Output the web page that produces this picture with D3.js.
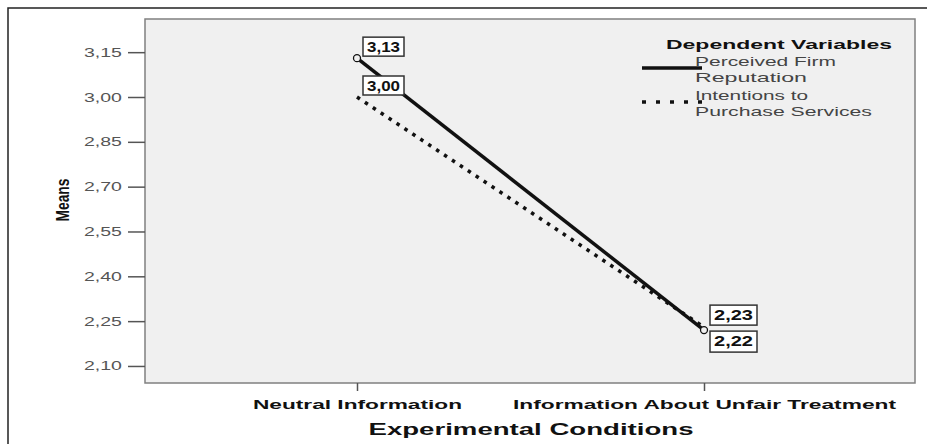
<!DOCTYPE html>
<html>
<head>
<meta charset="utf-8">
<script src="https://cdn.jsdelivr.net/npm/d3@7"></script>
<style>
  body { margin: 0; background: #fff; }
  svg { display: block; }
  text { font-family: "Liberation Sans", Arial, sans-serif; }
</style>
</head>
<body>
<div id="chart"></div>
<script>
const categories = ['Neutral Information', 'Information About Unfair Treatment'];
const reputation = [3.13, 2.22];
const intentions = [3.00, 2.23];
const yTicks = [2.10, 2.25, 2.40, 2.55, 2.70, 2.85, 3.00, 3.15];
const seriesNames = [['Perceived Firm', 'Reputation'], ['Intentions to', 'Purchase Services']];

const width = 927, height = 444;
const plot = { left: 145, right: 915, top: 19, bottom: 383 };

const loc = d3.formatLocale({ decimal: ',', thousands: '.', grouping: [3], currency: ['', ''] });
const fmt = loc.format('.2f');

// the original's text is drawn wide, so stretch glyphs to the measured width
function stretch(sel, len) {
  sel.attr('textLength', len).attr('lengthAdjust', 'spacingAndGlyphs');
}

const svg = d3.select('#chart').append('svg')
  .attr('width', width)
  .attr('height', height);

// outer frame
svg.append('rect')
  .attr('x', 8).attr('y', 8)
  .attr('width', 940).attr('height', 460)
  .attr('fill', 'none').attr('stroke', '#222').attr('stroke-width', 1.5);

const y = d3.scaleLinear().domain([2.043, 3.261]).range([plot.bottom, plot.top]);
const x = d3.scalePoint().domain(categories).range([357, 704]);

svg.append('rect')
  .attr('x', plot.left).attr('y', plot.top)
  .attr('width', plot.right - plot.left).attr('height', plot.bottom - plot.top)
  .attr('fill', '#f0f0f0').attr('stroke', '#808080').attr('stroke-width', 1.5);

// y axis
const yAxis = svg.append('g')
  .attr('transform', `translate(${plot.left},0)`)
  .call(d3.axisLeft(y).tickValues(yTicks).tickFormat(fmt).tickSize(17).tickPadding(6));
yAxis.select('.domain').remove();
yAxis.attr('font-family', null).attr('font-size', null);
yAxis.selectAll('line').attr('stroke', '#555').attr('stroke-width', 1.5);
yAxis.selectAll('text').attr('fill', '#555')
  .style('font-size', '12.5px')
  .call(stretch, 38);

// x axis
const xAxis = svg.append('g')
  .attr('transform', `translate(0,${plot.bottom})`)
  .call(d3.axisBottom(x).tickSize(8).tickPadding(8));
xAxis.select('.domain').remove();
xAxis.attr('font-family', null).attr('font-size', null);
xAxis.selectAll('line').attr('stroke', '#555').attr('stroke-width', 1.5);
xAxis.selectAll('text').attr('fill', '#111')
  .style('font-size', '13.5px').style('font-weight', 'bold')
  .each(function (d, i) { d3.select(this).call(stretch, i === 0 ? 209 : 383); });

svg.append('text')
  .attr('x', 531).attr('y', 435)
  .attr('text-anchor', 'middle')
  .style('font-size', '17px').style('font-weight', 'bold').attr('fill', '#111')
  .text('Experimental Conditions')
  .call(stretch, 325);

svg.append('text')
  .attr('transform', 'translate(69,200) rotate(-90)')
  .attr('text-anchor', 'middle')
  .style('font-size', '19px').style('font-weight', 'bold').attr('fill', '#111')
  .text('Means')
  .call(stretch, 43);

// lines
const line = d3.line().x((d, i) => x(categories[i])).y(d => y(d));

svg.append('path')
  .datum(intentions)
  .attr('d', line)
  .attr('fill', 'none').attr('stroke', '#111')
  .attr('stroke-width', 3.5).attr('stroke-dasharray', '3.5,6');

svg.append('path')
  .datum(reputation)
  .attr('d', line)
  .attr('fill', 'none').attr('stroke', '#111').attr('stroke-width', 3.5);

svg.selectAll('circle.pt')
  .data(reputation)
  .enter().append('circle')
  .attr('cx', (d, i) => x(categories[i]))
  .attr('cy', d => y(d))
  .attr('r', 3.5)
  .attr('fill', '#f0f0f0').attr('stroke', '#111').attr('stroke-width', 1.3);

// value labels
const labels = [
  { v: reputation[0], i: 0, dy: -12, w: 41, h: 19 },
  { v: intentions[0], i: 0, dy: -12, w: 41, h: 19 },
  { v: intentions[1], i: 1, dy: -13, w: 47, h: 20 },
  { v: reputation[1], i: 1, dy: 10, w: 47, h: 21 }
];
const lab = svg.selectAll('g.lab').data(labels).enter().append('g')
  .attr('transform', d => `translate(${x(categories[d.i]) + 6},${y(d.v) + d.dy})`);
lab.append('rect')
  .attr('x', 0).attr('y', -9).attr('width', d => d.w).attr('height', d => d.h)
  .attr('fill', '#fff').attr('stroke', '#333').attr('stroke-width', 1.5);
lab.append('text')
  .attr('x', d => d.w / 2).attr('y', 6)
  .attr('text-anchor', 'middle')
  .style('font-size', '14.5px').style('font-weight', 'bold').attr('fill', '#111')
  .text(d => fmt(d.v))
  .each(function (d) { d3.select(this).call(stretch, d.w - 8); });

// legend
const legend = svg.append('g');
legend.append('text')
  .attr('x', 666).attr('y', 49)
  .style('font-size', '13.5px').style('font-weight', 'bold').attr('fill', '#111')
  .text('Dependent Variables')
  .call(stretch, 226);

const items = legend.selectAll('g.item').data(seriesNames).enter().append('g')
  .attr('transform', (d, i) => `translate(0,${i * 34})`);
items.append('line')
  .attr('x1', 642).attr('x2', 702).attr('y1', 68).attr('y2', 68)
  .attr('stroke', '#111').attr('stroke-width', 3.5)
  .attr('stroke-dasharray', (d, i) => i === 0 ? null : '4,10');
const itemWidths = [[141, 112], [113, 177]];
items.append('text')
  .attr('x', 695).attr('y', 66)
  .style('font-size', '13px').attr('fill', '#444')
  .selectAll('tspan').data((d, i) => d.map((t, j) => ({ t, w: itemWidths[i][j] }))).enter().append('tspan')
  .attr('x', 695).attr('dy', (d, i) => i === 0 ? 0 : 16)
  .text(d => d.t)
  .each(function (d) { d3.select(this).call(stretch, d.w); });
</script>
</body>
</html>
